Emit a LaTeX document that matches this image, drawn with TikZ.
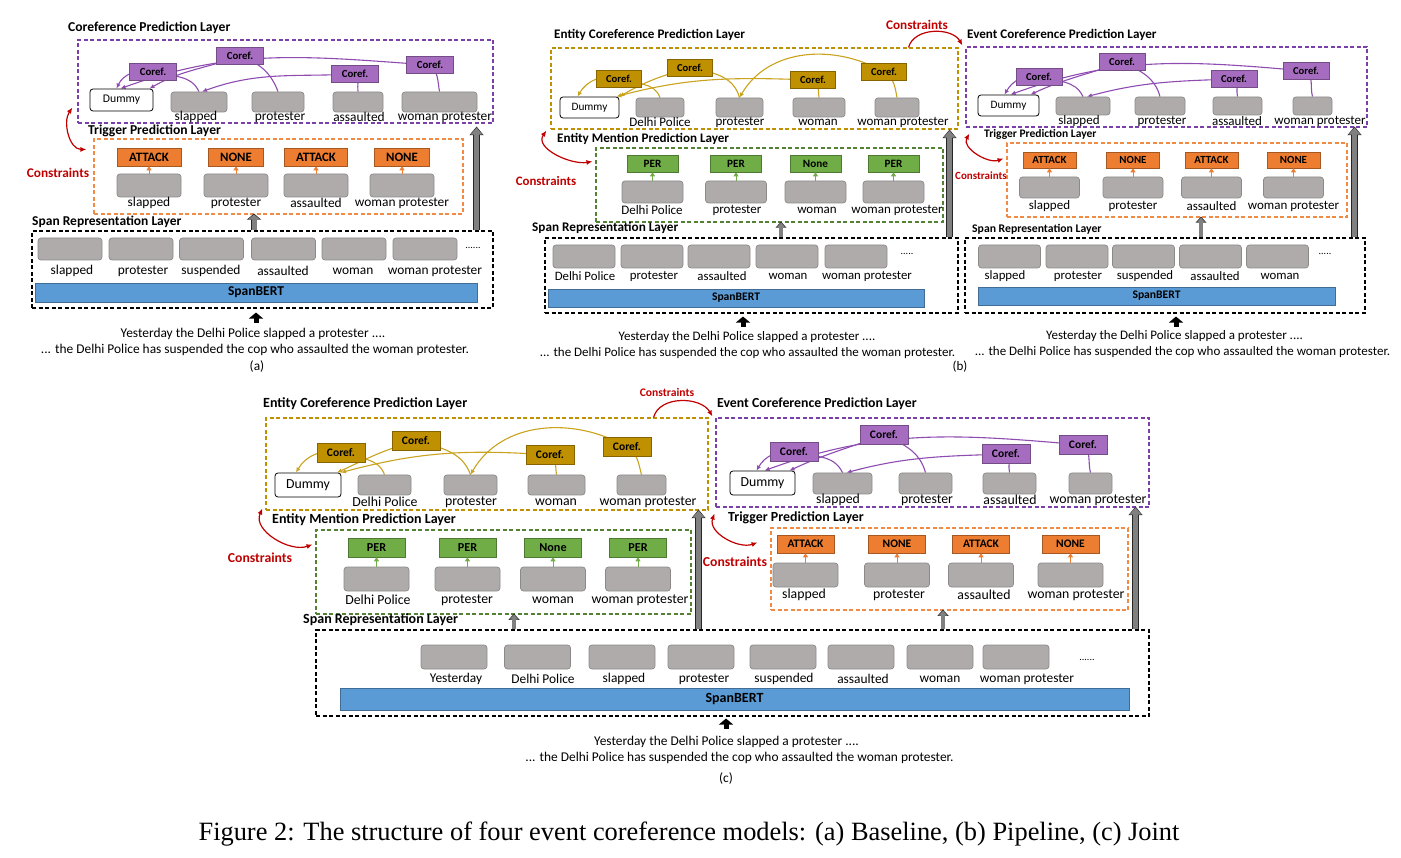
\documentclass[tikz,border=0pt]{standalone}
\usepackage{fontspec}
\setmainfont{Carlito}
\newfontfamily\capfont{Liberation Serif}
\usetikzlibrary{arrows.meta,fit,backgrounds}

\definecolor{boxgray}{HTML}{AFABAB}
\definecolor{boxedge}{HTML}{8C8989}
\definecolor{evpurple}{HTML}{A66CC0}
\definecolor{evline}{HTML}{8E4BB0}
\definecolor{evdash}{HTML}{7A3FA8}
\definecolor{engold}{HTML}{BF9000}
\definecolor{enline}{HTML}{C9A21E}
\definecolor{trorange}{HTML}{ED7D31}
\definecolor{trdash}{HTML}{F08A45}
\definecolor{mngreen}{HTML}{70AD47}
\definecolor{mndash}{HTML}{548235}
\definecolor{bertblue}{HTML}{5B9BD5}
\definecolor{consred}{HTML}{C00000}

\tikzset{
  every node/.style={inner sep=0pt},
  layerbox/.style={draw=#1, dash pattern=on 4pt off 2.5pt, line width=1.1pt, inner sep=0pt},
  ttl/.style={font=\bfseries\fontsize{#1}{#1}\selectfont, anchor=west},
  lbl/.style={font=\fontsize{#1}{#1}\selectfont},
  spn/.style={rounded corners=3pt, fill=boxgray, draw=boxedge, line width=0.7pt},
  dummy/.style={rounded corners=3pt, draw=black, fill=white, line width=0.8pt},
  coref/.style 2 args={fill=#1, draw=#1!70!black, line width=0.6pt, font=\bfseries\fontsize{#2}{#2}\selectfont},
  tagbox/.style 2 args={fill=#1, draw=#1!70!black, line width=0.6pt, font=\bfseries\fontsize{#2}{#2}\selectfont},
  cf/.style={draw=#1, line width=1.1pt, -{Latex[length=5pt,width=4.5pt]}},
  tagarr/.style={draw=#1, line width=1pt, -{Triangle[length=4pt,width=5pt]}},
  cons/.style={draw=consred, line width=1.2pt, {Latex[length=6pt,width=5pt]}-{Latex[length=6pt,width=5pt]}},
  consone/.style={draw=consred, line width=1.2pt, -{Latex[length=6pt,width=5pt]}},
  constxt/.style={text=consred, font=\bfseries\fontsize{#1}{#1}\selectfont},
  bigarr/.style={draw=black!50, line width=5.6pt, -{Triangle[length=7pt,width=11.5pt]},
    preaction={draw=black!85, line width=7pt, -{Triangle[length=8.6pt,width=13.6pt]}, shorten >=-1pt}},
  smallarr/.style={draw=black!50, line width=#1, -{Triangle[length=5pt,width=2.4*#1]},
    preaction={draw=black!85, line width=#1+1.2pt, -{Triangle[length=6.2pt,width=2.4*#1+2.2pt]}, shorten >=-1pt}},
  inarr/.style={draw=black, line width=5pt, -{Triangle[length=6pt,width=14pt]}},
  bert/.style={fill=bertblue, draw=bertblue!70!black, line width=0.7pt, font=\bfseries\fontsize{#1}{#1}\selectfont},
}

\begin{document}
\begin{tikzpicture}[x=1pt,y=1pt]
\useasboundingbox (0,0) rectangle (1401,-858);

%% (a) baseline
\node[ttl=13.6] at (68,-28) {Coreference Prediction Layer};
\node[layerbox=evdash, fit={(78,-40) (493,-123)}] (aCor) {};
\node[dummy, minimum width=63, minimum height=22, lbl=11.7] (aD) at (121.5,-100) {Dummy};
\foreach \n/\x/\w/\lx/\t in {1/199/56/196/slapped, 2/278/52/280/protester, 3/358/50/359/assaulted, 4/439.5/75/445/woman protester}{
  \node[spn, minimum width=\w, minimum height=20] (aC\n) at (\x,-102) {};
  \node[lbl=13.4] at (\lx,-117) {\t};
}
\foreach \n/\x/\y in {1/153/72, 2/240/56, 3/355/74, 4/430/65}
  \node[coref={evpurple}{10.8}, minimum width=47, minimum height=17] (aK\n) at (\x,-\y) {Coref.};
\begin{scope}[on background layer]
\draw[cf=evline] (aC1.north) to[out=115,in=-15] (aK1.center) to[out=165,in=65] ([xshift=-5pt]aD.north);
\draw[cf=evline] (aC2.north) to[out=110,in=-20] (aK2.center) to[out=200,in=30] ([xshift=28pt]aD.north);
\draw[cf=evline] (aC3.north) to[out=100,in=-40] (aK3.center) to[out=183,in=20] ([xshift=3pt]aC1.north);
\draw[cf=evline] (aC4.north) to[out=100,in=-40] (aK4.center) to[out=176,in=20] ([xshift=-1pt]aD.north);
\end{scope}

\node[ttl=13.6] at (88,-131) {Trigger Prediction Layer};
\node[layerbox=trdash, fit={(94,-139) (463,-214)}] (aTr) {};
\foreach \n/\x/\w/\l/\t in {1/149/64/ATTACK/slapped, 2/236/55/NONE/protester, 3/316/63/ATTACK/assaulted, 4/402/55/NONE/woman protester}{
  \node[tagbox={trorange}{12.8}, minimum width=\w, minimum height=18] (aT\n) at (\x,-157) {\l};
  \node[spn, minimum width=64, minimum height=23] (aG\n) at (\x,-185.5) {};
  \node[lbl=13.4] at (\x,-203) {\t};
  \draw[tagarr=trorange] (aG\n) -- (aT\n);
}
\node[constxt=13.3] at (58,-173) {Constraints};
\draw[cons] ([shift={(-5,16)}]aCor.south west) to[out=235,in=180] ([shift={(-7,-11)}]aTr.north west);

\node[ttl=13.5] at (32,-222) {Span Representation Layer};
\node[layerbox=black, fit={(32,-231) (493,-308)}] (aSp) {};
\foreach \n/\x/\lx/\t in {1/70/72/slapped, 2/141/143/protester, 3/211.5/211/suspended, 4/283.5/283/assaulted, 5/354/353/woman, 6/425/435/woman protester}{
  \node[spn, minimum width=64, minimum height=22] (aS\n) at (\x,-249) {};
  \node[lbl=13.4] at (\lx,-271) {\t};
}
\node[lbl=10] at (473,-248) {......};
\node[bert=13.5, minimum width=442, minimum height=19] (aB) at (256,-292.5) {SpanBERT};
\coordinate (aIn) at ([xshift=-6.5pt,yshift=-4pt]aSp.south);
\draw[inarr] ([yshift=-10pt]aIn) -- (aIn);
\coordinate (aBig) at ([xshift=-17pt,yshift=-4pt]aCor.south east);
\draw[bigarr] (aBig |- aSp.north) -- (aBig);
\coordinate (aSm) at ([xshift=-24.5pt]aTr.south);
\draw[smallarr=5pt] (aSm |- aSp.north) -- (aSm);
\node[lbl=13.4] at (253,-334) {Yesterday the Delhi Police slapped a protester ....};
\node[lbl=13.4] at (255,-350) {... the Delhi Police has suspended the cop who assaulted the woman protester.};
\node[lbl=13.4] at (257,-367) {(a)};

%% (b) pipeline: entity side
\node[ttl=13.1] at (554,-35) {Entity Coreference Prediction Layer};
\node[layerbox=engold, fit={(551,-48) (958,-129)}] (bEc) {};
\node[dummy, minimum width=59, minimum height=21, lbl=11.3] (bED) at (589.5,-107.5) {Dummy};
\foreach \n/\x/\w/\lx/\t in {1/660/48/660/Delhi Police, 2/739.5/47/740/protester, 3/819/52/818/woman, 4/897/44/903/woman protester}{
  \node[spn, minimum width=\w, minimum height=19] (bEC\n) at (\x,-107.5) {};
  \node[lbl=13] at (\lx,-122) {\t};
}
\foreach \n/\x/\y in {1/619/79, 2/690/68, 3/813/80, 4/884/72}
  \node[coref={engold}{10.6}, minimum width=45, minimum height=17] (bEK\n) at (\x,-\y) {Coref.};
\begin{scope}[on background layer]
\draw[cf=enline] (bEC1.north) to[out=110,in=-20] (bEK1.center) to[out=160,in=60] ([xshift=-12pt]bED.north);
\draw[cf=enline] (bEC2.north) to[out=105,in=-10] (bEK2.center) to[out=195,in=30] (bED.north east);
\draw[cf=enline] (bEC3.north) to[out=100,in=-20] (bEK3.center) to[out=178,in=15] ([xshift=-3pt]bED.north east);
\draw[cf=enline] (bEC4.north) to[out=100,in=-30] (bEK4.center) to[out=150,in=60] (bEC2.north);
\end{scope}

\node[ttl=13.1] at (557,-139) {Entity Mention Prediction Layer};
\node[layerbox=mndash, fit={(596,-148) (943,-222)}] (bEm) {};
\foreach \n/\x/\lx/\l/\t in {1/652.5/652/PER/Delhi Police, 2/736/737/PER/protester, 3/815.5/817/None/woman, 4/893.5/897/PER/woman protester}{
  \node[tagbox={mngreen}{11.2}, minimum width=51, minimum height=17] (bET\n) at (\x,-163.5) {\l};
  \node[spn, minimum width=61, minimum height=22] (bEG\n) at (\x,-192) {};
  \node[lbl=13] at (\lx,-210) {\t};
  \draw[tagarr=mngreen] (bEG\n) -- (bET\n);
}
\node[constxt=12.9] at (546,-181) {Constraints};
\draw[cons] ([shift={(-4,-1)}]bEc.south west) to[out=235,in=190] ([shift={(-3,-14)}]bEm.north west);

\node[ttl=13.2] at (532,-228) {Span Representation Layer};
\node[layerbox=black, fit={(545,-238) (958,-313)}] (bESp) {};
\foreach \n/\x/\lx/\t in {1/584/585/Delhi Police, 2/652/654/protester, 3/719/722/assaulted, 4/787/788/woman, 5/856/867/woman protester}{
  \node[spn, minimum width=62, minimum height=23] (bES\n) at (\x,-256.5) {};
  \node[lbl=12.8] at (\lx,-276) {\t};
}
\node[lbl=10] at (907,-254) {.....};
\node[bert=11.6, minimum width=376, minimum height=18] (bEB) at (736,-298) {SpanBERT};
\coordinate (bEIn) at ([xshift=-8.5pt,yshift=-3pt]bESp.south);
\draw[inarr] ([yshift=-10pt]bEIn) -- (bEIn);
\coordinate (bEBig) at ([xshift=-9pt,yshift=-1pt]bEc.south east);
\draw[bigarr] (bEBig |- bESp.north) -- (bEBig);
\coordinate (bESm) at ([xshift=11.5pt]bEm.south);
\draw[smallarr=3.5pt] (bESm |- bESp.north) -- (bESm);
\node[lbl=13] at (747,-337) {Yesterday the Delhi Police slapped a protester ....};
\node[lbl=13] at (747.5,-353) {... the Delhi Police has suspended the cop who assaulted the woman protester.};

%% (b) pipeline: event side
\node[ttl=13.1] at (967,-35) {Event Coreference Prediction Layer};
\node[layerbox=evdash, fit={(966,-47) (1367,-127)}] (bVc) {};
\node[dummy, minimum width=61, minimum height=21, lbl=11.3] (bVD) at (1008.5,-105.5) {Dummy};
\foreach \n/\x/\w/\lx/\t in {1/1083/54/1079/slapped, 2/1160/50/1162/protester, 3/1237.5/49/1237/assaulted, 4/1312.5/39/1320/woman protester}{
  \node[spn, minimum width=\w, minimum height=18] (bVC\n) at (\x,-106) {};
  \node[lbl=13] at (\lx,-121) {\t};
}
\foreach \n/\x/\y in {1/1039/77, 2/1122/62, 3/1234/79, 4/1306/71}
  \node[coref={evpurple}{10.6}, minimum width=46, minimum height=17] (bVK\n) at (\x,-\y) {Coref.};
\begin{scope}[on background layer]
\draw[cf=evline] (bVC1.north) to[out=115,in=-15] (bVK1.center) to[out=165,in=60] ([xshift=-4pt]bVD.north);
\draw[cf=evline] (bVC2.north) to[out=105,in=-25] (bVK2.center) to[out=200,in=25] ([xshift=22pt]bVD.north);
\draw[cf=evline] (bVC3.north) to[out=105,in=-40] (bVK3.center) to[out=182,in=15] ([xshift=4pt]bVC1.north);
\draw[cf=evline] (bVC4.north) to[out=105,in=-40] (bVK4.center) to[out=175,in=20] ([xshift=2pt]bVD.north);
\end{scope}
\node[constxt=13.2] at (917,-25) {Constraints};
\draw[consone] ([xshift=-50pt]bEc.north east) to[out=75,in=120] ([shift={(-3,1)}]bVc.north west);

\node[ttl=11.5] at (984,-134) {Trigger Prediction Layer};
\node[layerbox=trdash, fit={(1007,-143) (1347,-217)}] (bVt) {};
\foreach \n/\x/\l/\t in {1/1049.5/ATTACK/slapped, 2/1133/NONE/protester, 3/1211.5/ATTACK/assaulted, 4/1293.5/NONE/woman protester}{
  \node[tagbox={trorange}{10.9}, minimum width=53, minimum height=16] (bVT\n) at (\x,-160) {\l};
  \node[spn, minimum width=60, minimum height=21] (bVG\n) at (\x,-187.5) {};
  \node[lbl=13] at (\x,-206) {\t};
  \draw[tagarr=trorange] (bVG\n) -- (bVT\n);
}
\node[constxt=11] at (981,-176) {Constraints};
\draw[cons] ([shift={(4,-6)}]bVc.south west) to[out=240,in=200] ([shift={(-3,-16)}]bVt.north west);

\node[ttl=11.7] at (972,-229) {Span Representation Layer};
\node[layerbox=black, fit={(965,-238) (1365,-313)}] (bVSp) {};
\foreach \n/\x/\lx/\t in {1/1009.5/1005/slapped, 2/1077/1078/protester, 3/1143.5/1145/suspended, 4/1210.5/1215/assaulted, 5/1277.5/1280/woman}{
  \node[spn, minimum width=62, minimum height=23] (bVS\n) at (\x,-256.5) {};
  \node[lbl=12.8] at (\lx,-276) {\t};
}
\node[lbl=10] at (1325,-254) {.....};
\node[bert=11.6, minimum width=357, minimum height=18] (bVB) at (1156.5,-296) {SpanBERT};
\coordinate (bVIn) at ([xshift=11pt,yshift=-3pt]bVSp.south);
\draw[inarr] ([yshift=-10pt]bVIn) -- (bVIn);
\coordinate (bVBig) at ([xshift=-13pt]bVc.south east);
\draw[bigarr] (bVBig |- bVSp.north) -- (bVBig);
\coordinate (bVSm) at ([xshift=24pt]bVt.south);
\draw[smallarr=3.5pt] (bVSm |- bVSp.north) -- (bVSm);
\node[lbl=13] at (1174.5,-336) {Yesterday the Delhi Police slapped a protester ....};
\node[lbl=13] at (1182.5,-352) {... the Delhi Police has suspended the cop who assaulted the woman protester.};
\node[lbl=13] at (960,-367) {(b)};

%% (c) joint: entity side
\node[ttl=14] at (263,-404) {Entity Coreference Prediction Layer};
\node[layerbox=engold, fit={(266,-418) (708,-510)}] (cEc) {};
\node[dummy, minimum width=66, minimum height=24, lbl=13.8] (cED) at (308,-485) {Dummy};
\foreach \n/\x/\w/\lx/\t in {1/384.5/53/385/Delhi Police, 2/470.5/53/471/protester, 3/556.5/57/556/woman, 4/641.5/49/648/woman protester}{
  \node[spn, minimum width=\w, minimum height=20] (cEC\n) at (\x,-485) {};
  \node[lbl=13.8] at (\lx,-502) {\t};
}
\foreach \n/\x/\y in {1/341/453, 2/416/441, 3/550/455, 4/627/447}
  \node[coref={engold}{11.5}, minimum width=48, minimum height=19] (cEK\n) at (\x,-\y) {Coref.};
\begin{scope}[on background layer]
\draw[cf=enline] (cEC1.north) to[out=110,in=-20] (cEK1.center) to[out=165,in=60] ([xshift=-12pt]cED.north);
\draw[cf=enline] (cEC2.north) to[out=110,in=-15] (cEK2.center) to[out=195,in=25] ([xshift=29pt]cED.north);
\draw[cf=enline] (cEC3.north) to[out=100,in=-30] (cEK3.center) to[out=176,in=15] ([xshift=33pt]cED.north);
\draw[cf=enline] (cEC4.north) to[out=105,in=-30] (cEK4.center) to[out=150,in=60] (cEC2.north);
\end{scope}

\node[ttl=14] at (272,-520) {Entity Mention Prediction Layer};
\node[layerbox=mndash, fit={(316,-530) (691,-614)}] (cEm) {};
\foreach \n/\x/\lx/\l/\t in {1/376.5/378/PER/Delhi Police, 2/467.5/467/PER/protester, 3/553/553/None/woman, 4/638/640/PER/woman protester}{
  \node[tagbox={mngreen}{12.2}, minimum width=57, minimum height=19] (cET\n) at (\x,-547.5) {\l};
  \node[spn, minimum width=65, minimum height=24] (cEG\n) at (\x,-579) {};
  \node[lbl=13.8] at (\lx,-600) {\t};
  \draw[tagarr=mngreen] (cEG\n) -- (cET\n);
}
\node[constxt=13.7] at (260,-558) {Constraints};
\draw[cons] ([shift={(-3,2)}]cEc.south west) to[out=245,in=200] ([shift={(-3,-15)}]cEm.north west);

%% (c) joint: event side
\node[ttl=13.8] at (717,-404) {Event Coreference Prediction Layer};
\node[layerbox=evdash, fit={(716,-418) (1149,-507)}] (cVc) {};
\node[dummy, minimum width=65, minimum height=24, lbl=13.8] (cVD) at (762.5,-483) {Dummy};
\foreach \n/\x/\w/\lx/\t in {1/842.5/59/838/slapped, 2/925.5/53/927/protester, 3/1009.5/53/1010/assaulted, 4/1090.5/43/1098/woman protester}{
  \node[spn, minimum width=\w, minimum height=21] (cVC\n) at (\x,-483.5) {};
  \node[lbl=13.8] at (\lx,-500) {\t};
}
\foreach \n/\x/\y in {1/794/452, 2/884/435, 3/1006/454, 4/1083/445}
  \node[coref={evpurple}{11.5}, minimum width=48, minimum height=19] (cVK\n) at (\x,-\y) {Coref.};
\begin{scope}[on background layer]
\draw[cf=evline] (cVC1.north) to[out=115,in=-15] (cVK1.center) to[out=170,in=60] ([xshift=-6pt]cVD.north);
\draw[cf=evline] (cVC2.north) to[out=105,in=-25] (cVK2.center) to[out=200,in=25] ([xshift=27pt]cVD.north);
\draw[cf=evline] (cVC3.north) to[out=105,in=-40] (cVK3.center) to[out=182,in=15] ([xshift=4pt]cVC1.north);
\draw[cf=evline] (cVC4.north) to[out=105,in=-40] (cVK4.center) to[out=175,in=20] ([xshift=2pt]cVD.north);
\end{scope}
\node[constxt=11.6] at (667,-392) {Constraints};
\draw[consone] ([xshift=-55pt]cEc.north east) to[out=75,in=120] ([shift={(-3,1)}]cVc.north west);

\node[ttl=13.9] at (728,-518) {Trigger Prediction Layer};
\node[layerbox=trdash, fit={(771,-528) (1128,-610)}] (cVt) {};
\foreach \n/\x/\lx/\l/\t in {1/805.5/804/ATTACK/slapped, 2/897/899/NONE/protester, 3/981/984/ATTACK/assaulted, 4/1070.5/1076/NONE/woman protester}{
  \node[tagbox={trorange}{11.5}, minimum width=57, minimum height=18] (cVT\n) at (\x,-544) {\l};
  \node[spn, minimum width=65, minimum height=24] (cVG\n) at (\x,-575) {};
  \node[lbl=13.8] at (\lx,-595) {\t};
  \draw[tagarr=trorange] (cVG\n) -- (cVT\n);
}
\node[constxt=13.7] at (735,-562) {Constraints};
\draw[cons] ([shift={(-1,-6)}]cVc.south west) to[out=250,in=200] ([shift={(-13,-15)}]cVt.north west);

%% (c) shared span layer
\node[ttl=14] at (303,-620) {Span Representation Layer};
\node[layerbox=black, fit={(316,-630) (1149,-716)}] (cSp) {};
\foreach \n/\x/\lx/\t in {1/454/456/Yesterday, 2/537.5/543/Delhi Police, 3/622/624/slapped, 4/701/704/protester, 5/783/784/suspended, 6/861/863/assaulted, 7/940/940/woman, 8/1016/1027/woman protester}{
  \node[spn, minimum width=66, minimum height=24] (cS\n) at (\x,-657) {};
  \node[lbl=13.4] at (\lx,-679) {\t};
}
\node[lbl=10] at (1087,-660) {......};
\node[bert=14, minimum width=789, minimum height=22] (cB) at (734.5,-699) {SpanBERT};
\coordinate (cIn) at ([xshift=-6.5pt,yshift=-2pt]cSp.south);
\draw[inarr] ([yshift=-10pt]cIn) -- (cIn);
\coordinate (cEBig) at ([xshift=-10pt]cEc.south east);
\draw[bigarr] (cEBig |- cSp.north) -- (cEBig);
\coordinate (cVBig) at ([xshift=-14pt]cVc.south east);
\draw[bigarr] (cVBig |- cSp.north) -- (cVBig);
\coordinate (cESm) at ([xshift=10.5pt]cEm.south);
\draw[smallarr=3.5pt] (cESm |- cSp.north) -- (cESm);
\coordinate (cVSm) at ([xshift=-6.5pt]cVt.south);
\draw[smallarr=3.5pt] (cVSm |- cSp.north) -- (cVSm);
\node[lbl=13.4] at (726.5,-742) {Yesterday the Delhi Police slapped a protester ....};
\node[lbl=13.4] at (739.5,-758) {... the Delhi Police has suspended the cop who assaulted the woman protester.};
\node[lbl=13.4] at (726,-779) {(c)};

\node[font=\capfont\fontsize{26.4}{26.4}\selectfont] at (689,-834) {Figure 2: The structure of four event coreference models: (a) Baseline, (b) Pipeline, (c) Joint};
\end{tikzpicture}
\end{document}
